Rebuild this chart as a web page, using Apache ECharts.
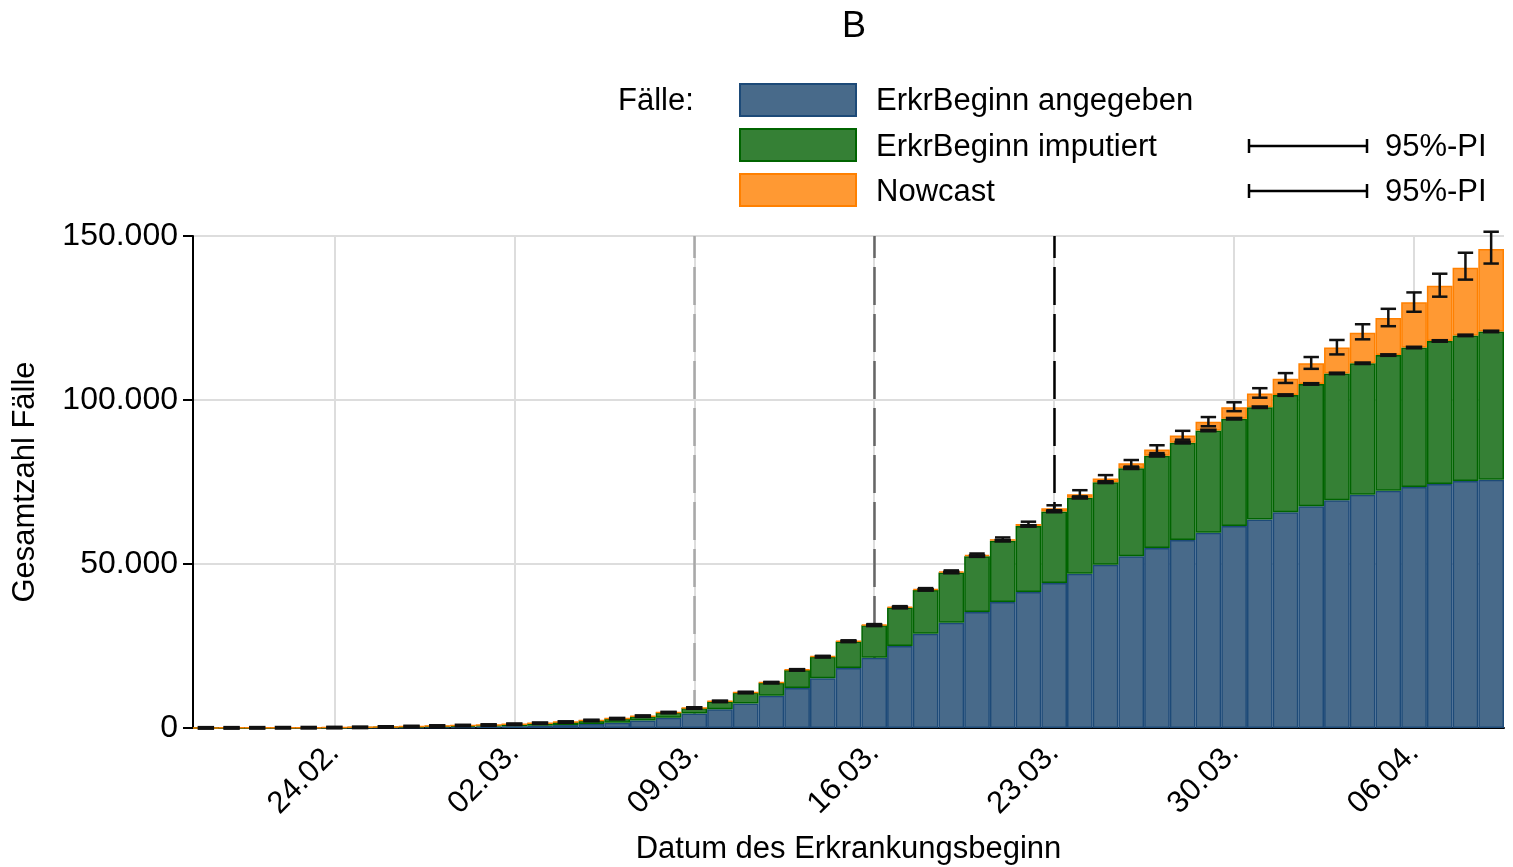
<!DOCTYPE html>
<html><head><meta charset="utf-8">
<script src="https://cdn.jsdelivr.net/npm/echarts@6/dist/echarts.min.js"></script>
<style>html,body{margin:0;padding:0;background:#fff}#c{width:1513px;height:867px}</style>
</head><body><div id="c"></div>
<script>
const dates = ['19.02.','20.02.','21.02.','22.02.','23.02.','24.02.','25.02.','26.02.','27.02.','28.02.','29.02.',
'01.03.','02.03.','03.03.','04.03.','05.03.','06.03.','07.03.','08.03.','09.03.','10.03.','11.03.','12.03.','13.03.','14.03.','15.03.','16.03.','17.03.','18.03.','19.03.','20.03.','21.03.','22.03.','23.03.','24.03.','25.03.','26.03.','27.03.','28.03.','29.03.','30.03.','31.03.',
'01.04.','02.04.','03.04.','04.04.','05.04.','06.04.','07.04.','08.04.','09.04.'];
const angegeben = [15,20,25,35,45,65,100,150,220,300,370,440,550,700,900,1200,1600,2300,3100,4400,
5700,7500,9800,12200,15200,18300,21400,25000,28700,32100,35400,38400,41500,44200,47000,49800,52400,54900,57300,59500,
61600,63600,65800,67600,69400,71100,72300,73500,74400,75300,75700];
const imputiert = [15,20,25,35,45,65,100,150,230,300,380,460,600,750,900,1100,1250,1300,1600,1700,
2400,3300,4000,5500,6500,8100,9900,11700,13400,15300,17000,18700,20100,21800,23200,25100,26800,28100,29700,31200,
32700,34200,35700,37300,38700,40100,41400,42500,43600,44400,45200];
const nowcast = [0,0,0,0,0,0,0,0,0,0,0,10,10,20,20,30,30,40,50,60,
70,80,100,120,140,160,190,220,260,310,380,460,600,1000,1100,1200,1500,1900,2200,2700,
3500,4200,5000,6300,7900,9300,11300,13800,16800,20600,25100];
const piLower = [25,35,45,65,85,120,190,290,440,590,740,900,1150,1460,1800,2310,2860,3610,4720,6120,
8120,10820,13830,17740,21750,26450,31350,36750,42150,47450,52450,57150,61700,66400,70600,75200,79700,83800,87900,92000,
96600,100700,105200,109500,113900,118500,122500,126900,131500,136700,141600];
const piUpper = [35,45,55,75,95,140,210,310,460,610,760,920,1180,1490,1840,2360,2910,3680,4790,6210,
8230,10950,13990,17930,21970,26720,31680,37150,42650,48050,53200,58100,62900,67900,72500,77100,81700,86200,90600,94800,
99300,103600,108200,113100,118300,123100,127800,132800,138500,144900,151300];
const majorDates = ['24.02.','02.03.','09.03.','16.03.','23.03.','30.03.','06.04.'];
const dashedDates = ['09.03.','16.03.','23.03.'];
const seriesNames = ['ErkrBeginn angegeben','ErkrBeginn imputiert','Nowcast'];

const FONT = '"Liberation Sans", Arial, Helvetica, sans-serif';
const C_BLUE = '#486a8a', C_BLUE_B = '#1d4a78';
const C_GREEN = '#358035', C_GREEN_B = '#006400';
const C_ORANGE = '#ff9933', C_ORANGE_B = '#ff8000';
const dashedColors = ['#a8a8a8','#666666','#000000'];

const fmt = v => String(v).replace(/\B(?=(\d{3})+(?!\d))/g, '.');
const majorIdx = majorDates.map(d => dates.indexOf(d));
const imputedTop = angegeben.map((v,i) => v + imputiert[i]);

function errRender(params, api) {
  const i = api.value(0);
  const lo = api.coord([i, api.value(1)]);
  const hi = api.coord([i, api.value(2)]);
  const half = api.size([1, 0])[0] * 0.3;
  const style = {stroke: '#111', lineWidth: 2.5};
  return {type: 'group', children: [
    {type: 'line', shape: {x1: lo[0], y1: lo[1], x2: hi[0], y2: hi[1]}, style},
    {type: 'line', shape: {x1: lo[0]-half, y1: lo[1], x2: lo[0]+half, y2: lo[1]}, style},
    {type: 'line', shape: {x1: hi[0]-half, y1: hi[1], x2: hi[0]+half, y2: hi[1]}, style}
  ]};
}
function dashRender(params, api) {
  const i = api.value(0);
  const p = api.coord([i, api.value(1)]);
  const half = api.size([1, 0])[0] * 0.32;
  return {type: 'line', shape: {x1: p[0]-half, y1: p[1], x2: p[0]+half, y2: p[1]},
    style: {stroke: '#111', lineWidth: 4}};
}

const markData = majorDates.map(d => ({xAxis: d, lineStyle: {color: '#dddddd', width: 2, type: 'solid'}}))
  .concat(dashedDates.map((d, k) => ({xAxis: d, lineStyle: {color: dashedColors[k], width: 2.5, type: [38, 9]}})));

const chart = echarts.init(document.getElementById('c'), null, {renderer: 'canvas'});
const txt = (text, x, y, size, align) => ({type: 'text', x, y, style: {text, fontSize: size || 31, fontFamily: FONT, fill: '#000', verticalAlign: 'middle', align: align || 'left'}});
const rect = (y, fill, stroke) => ({type: 'rect', shape: {x: 740, y, width: 116, height: 32}, style: {fill, stroke, lineWidth: 2}});
const ln = (x1, y1, x2, y2) => ({type: 'line', shape: {x1, y1, x2, y2}, style: {stroke: '#000', lineWidth: 2.5}});

chart.setOption({
  animation: false,
  backgroundColor: '#fff',
  textStyle: {fontFamily: FONT},
  grid: {left: 193, right: 9, top: 236, bottom: 139, containLabel: false, outerBoundsMode: 'none'},
  xAxis: [
    {type: 'category', data: dates, boundaryGap: true, position: 'bottom',
     axisLine: {lineStyle: {color: '#000', width: 2}},
     axisTick: {alignWithLabel: true, interval: 0, length: 6, lineStyle: {color: '#000', width: 2}},
     axisLabel: {interval: (i) => majorIdx.includes(i), rotate: 45, fontSize: 31, color: '#000', margin: 20, fontFamily: FONT},
     splitLine: {show: false},
     name: 'Datum des Erkrankungsbeginn', nameLocation: 'middle', nameGap: 106,
     nameTextStyle: {fontSize: 31, color: '#000', fontFamily: FONT}},
    {type: 'category', data: dates, boundaryGap: true, position: 'bottom',
     axisLine: {show: false}, axisLabel: {show: false}, splitLine: {show: false},
     axisTick: {alignWithLabel: true, interval: (i) => majorIdx.includes(i), length: 14, lineStyle: {color: '#000', width: 2}}}
  ],
  yAxis: {type: 'value', min: 0, max: 150000, interval: 50000,
    axisLine: {show: true, lineStyle: {color: '#000', width: 2}},
    axisTick: {show: true, length: 10, lineStyle: {color: '#000', width: 2}},
    axisLabel: {formatter: fmt, fontSize: 32, color: '#000', margin: 15, fontFamily: FONT},
    splitLine: {show: true, lineStyle: {color: '#dddddd', width: 2}},
    name: 'Gesamtzahl Fälle', nameLocation: 'middle', nameGap: 152,
    nameTextStyle: {fontSize: 31, color: '#000', fontFamily: FONT}},
  series: [
    {name: seriesNames[0], type: 'bar', stack: 'total', data: angegeben, barWidth: '100%', z: 2,
     itemStyle: {color: C_BLUE, borderColor: C_BLUE_B, borderWidth: 1.5},
     markLine: {silent: true, z: 1, symbol: 'none', label: {show: false}, data: markData}},
    {name: seriesNames[1], type: 'bar', stack: 'total', data: imputiert, barWidth: '100%', z: 2,
     itemStyle: {color: C_GREEN, borderColor: C_GREEN_B, borderWidth: 1.5}},
    {name: seriesNames[2], type: 'bar', stack: 'total', data: nowcast, barWidth: '100%', z: 2,
     itemStyle: {color: C_ORANGE, borderColor: C_ORANGE_B, borderWidth: 1.5}},
    {type: 'custom', z: 4, clip: false, renderItem: dashRender, encode: {x: 0, y: 1},
     data: dates.map((d, i) => [i, imputedTop[i]])},
    {type: 'custom', z: 5, clip: false, renderItem: errRender, encode: {x: 0, y: [1, 2]},
     data: dates.map((d, i) => [i, piLower[i], piUpper[i]])}
  ],
  graphic: [
    txt('B', 854, 27, 36, 'center'),
    txt('Fälle:', 618, 101),
    rect(84, C_BLUE, C_BLUE_B), rect(129, C_GREEN, C_GREEN_B), rect(174, C_ORANGE, C_ORANGE_B),
    txt(seriesNames[0], 876, 101), txt(seriesNames[1], 876, 147), txt(seriesNames[2], 876, 192),
    ln(1249, 146, 1367, 146), ln(1249, 139, 1249, 153), ln(1367, 139, 1367, 153),
    ln(1249, 191, 1367, 191), ln(1249, 184, 1249, 198), ln(1367, 184, 1367, 198),
    txt('95%-PI', 1385, 147), txt('95%-PI', 1385, 192)
  ]
});
</script></body></html>
